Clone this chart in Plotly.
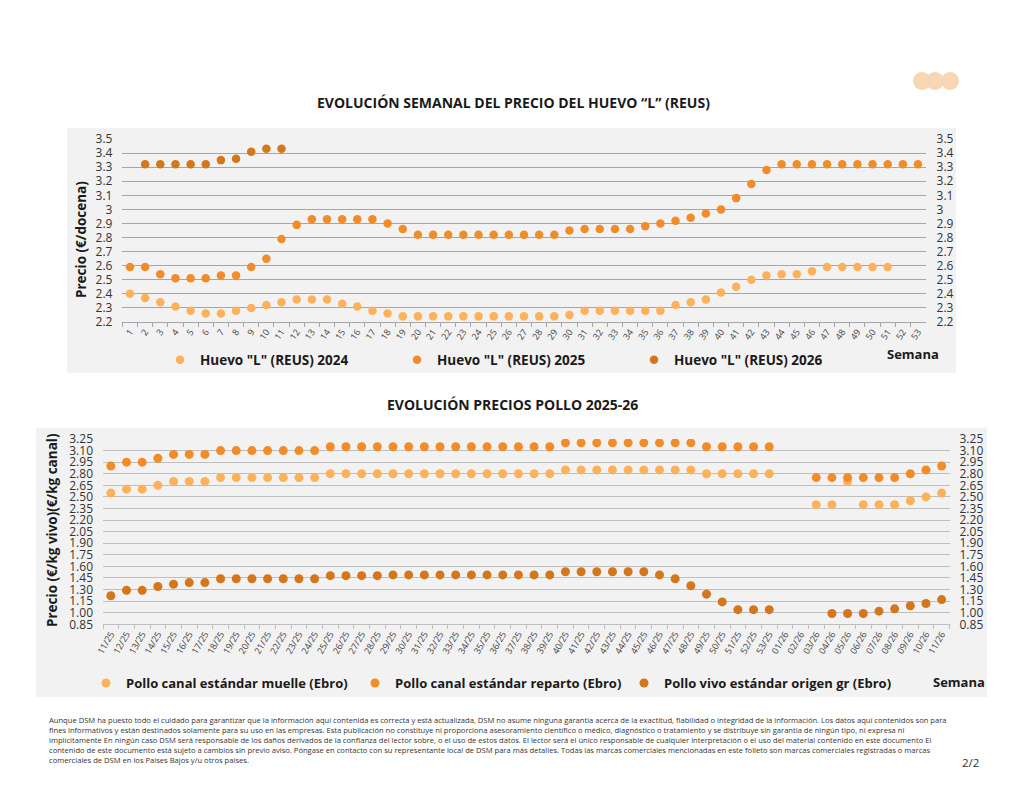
import plotly.graph_objects as go

# ---------------- data: egg chart ----------------
weeks = [str(i) for i in range(1, 54)]
huevo_2024 = [2.40, 2.37, 2.34, 2.31, 2.28, 2.26, 2.26, 2.28, 2.30, 2.32,
              2.34, 2.36, 2.36, 2.36, 2.33, 2.31, 2.28, 2.26, 2.24, 2.24,
              2.24, 2.24, 2.24, 2.24, 2.24, 2.24, 2.24, 2.24, 2.24, 2.25,
              2.28, 2.28, 2.28, 2.28, 2.28, 2.28, 2.32, 2.34, 2.36, 2.41,
              2.45, 2.50, 2.53, 2.54, 2.54, 2.56, 2.59, 2.59, 2.59, 2.59,
              2.59, None, None]
huevo_2025 = [2.59, 2.59, 2.54, 2.51, 2.51, 2.51, 2.53, 2.53, 2.59, 2.65,
              2.79, 2.89, 2.93, 2.93, 2.93, 2.93, 2.93, 2.90, 2.86, 2.82,
              2.82, 2.82, 2.82, 2.82, 2.82, 2.82, 2.82, 2.82, 2.82, 2.85,
              2.86, 2.86, 2.86, 2.86, 2.88, 2.90, 2.92, 2.94, 2.97, 3.00,
              3.08, 3.18, 3.28, 3.32, 3.32, 3.32, 3.32, 3.32, 3.32, 3.32,
              3.32, 3.32, 3.32]
huevo_2026 = [None, 3.32, 3.32, 3.32, 3.32, 3.32, 3.35, 3.36, 3.41, 3.43,
              3.43] + [None] * 42
huevo_ticks = [2.2, 2.3, 2.4, 2.5, 2.6, 2.7, 2.8, 2.9, 3.0, 3.1, 3.2, 3.3, 3.4, 3.5]
huevo_ticktext = ["2.2", "2.3", "2.4", "2.5", "2.6", "2.7", "2.8", "2.9", "3",
                  "3.1", "3.2", "3.3", "3.4", "3.5"]

# ---------------- data: chicken chart ----------------
semanas_pollo = [f"{i}/25" for i in range(11, 54)] + [f"{i:02d}/26" for i in range(1, 12)]
pollo_muelle = [2.55, 2.60, 2.60, 2.65, 2.70, 2.70, 2.70, 2.75, 2.75, 2.75,
                2.75, 2.75, 2.75, 2.75, 2.80, 2.80, 2.80, 2.80, 2.80, 2.80,
                2.80, 2.80, 2.80, 2.80, 2.80, 2.80, 2.80, 2.80, 2.80, 2.85,
                2.85, 2.85, 2.85, 2.85, 2.85, 2.85, 2.85, 2.85, 2.80, 2.80,
                2.80, 2.80, 2.80,
                None, None, 2.40, 2.40, 2.70, 2.40, 2.40, 2.40, 2.45, 2.50, 2.55]
pollo_reparto = [2.90, 2.95, 2.95, 3.00, 3.05, 3.05, 3.05, 3.10, 3.10, 3.10,
                 3.10, 3.10, 3.10, 3.10, 3.15, 3.15, 3.15, 3.15, 3.15, 3.15,
                 3.15, 3.15, 3.15, 3.15, 3.15, 3.15, 3.15, 3.15, 3.15, 3.20,
                 3.20, 3.20, 3.20, 3.20, 3.20, 3.20, 3.20, 3.20, 3.15, 3.15,
                 3.15, 3.15, 3.15,
                 None, None, 2.75, 2.75, 2.75, 2.75, 2.75, 2.75, 2.80, 2.85, 2.90]
pollo_vivo = [1.22, 1.29, 1.29, 1.34, 1.37, 1.39, 1.39, 1.44, 1.44, 1.44,
              1.44, 1.44, 1.44, 1.44, 1.48, 1.48, 1.48, 1.48, 1.49, 1.49,
              1.49, 1.49, 1.49, 1.49, 1.49, 1.49, 1.49, 1.49, 1.49, 1.53,
              1.53, 1.53, 1.53, 1.53, 1.53, 1.49, 1.44, 1.35, 1.24, 1.14,
              1.04, 1.04, 1.04,
              None, None, None, 0.99, 0.99, 0.99, 1.02, 1.05, 1.09, 1.12, 1.17]
pollo_ticks = [0.85, 1.00, 1.15, 1.30, 1.45, 1.60, 1.75, 1.90, 2.05, 2.20,
               2.35, 2.50, 2.65, 2.80, 2.95, 3.10, 3.25]

C_LIGHT = "#FDB25A"
C_MID = "#F28C28"
C_DARK = "#D4761B"
FONT = "Open Sans"
OFF = 8          # default page body margin
W, H = 1008, 775


def px_x(p):
    return (p - OFF) / W


def px_y(p):
    return 1 - (p - OFF) / H


fig = go.Figure()

# egg traces
for name, vals, col in [('Huevo "L" (REUS) 2024', huevo_2024, C_LIGHT),
                        ('Huevo "L" (REUS) 2025', huevo_2025, C_MID),
                        ('Huevo "L" (REUS) 2026', huevo_2026, C_DARK)]:
    fig.add_trace(go.Scatter(x=weeks, y=vals, mode="markers", name="<b>" + name + "</b>",
                             marker=dict(color=col, size=8.5),
                             xaxis="x", yaxis="y", legend="legend"))
fig.add_trace(go.Scatter(x=weeks, y=huevo_2025, mode="markers", showlegend=False,
                         marker=dict(opacity=0), hoverinfo="skip",
                         xaxis="x", yaxis="y2"))

# chicken traces
for name, vals, col in [("Pollo canal estándar muelle (Ebro)", pollo_muelle, C_LIGHT),
                        ("Pollo canal estándar reparto (Ebro)", pollo_reparto, C_MID),
                        ("Pollo vivo estándar origen gr (Ebro)", pollo_vivo, C_DARK)]:
    fig.add_trace(go.Scatter(x=semanas_pollo, y=vals, mode="markers", name="<b>" + name + "</b>",
                             marker=dict(color=col, size=9),
                             xaxis="x2", yaxis="y3", legend="legend2"))
fig.add_trace(go.Scatter(x=semanas_pollo, y=pollo_reparto, mode="markers", showlegend=False,
                         marker=dict(opacity=0), hoverinfo="skip",
                         xaxis="x2", yaxis="y4"))

tick_font = dict(family=FONT, size=12, color="#333333")
xtick_font = dict(family=FONT, size=9, color="#444444")

top_dom_x = [px_x(122.4), px_x(925.6)]
top_dom_y = [px_y(322), px_y(139)]
bot_dom_x = [px_x(103), px_x(949.5)]
bot_dom_y = [px_y(624.3), px_y(439)]

fig.update_layout(
    template="none",
    width=W, height=H,
    margin=dict(l=0, r=0, t=0, b=0, autoexpand=False),
    paper_bgcolor="white",
    plot_bgcolor="rgba(0,0,0,0)",
    font=dict(family=FONT, color="#222222"),
    showlegend=True,
    xaxis=dict(domain=top_dom_x, anchor="y", type="category", tickangle=-55,
               range=[-0.5, len(weeks) - 0.5], autorange=False,
               tickfont=xtick_font, ticks="outside", tickson="boundaries",
               ticklen=4, tickcolor="#a6a6a6", showline=True, linecolor="#a6a6a6",
               linewidth=1.3, showgrid=False, zeroline=False, automargin=False),
    yaxis=dict(domain=top_dom_y, anchor="x", range=[2.2, 3.5], tickvals=huevo_ticks,
               ticktext=huevo_ticktext, tickfont=tick_font, showgrid=True,
               gridcolor="#a6a6a6", gridwidth=1.3, zeroline=False, ticks="",
               showline=False, automargin=False, ticklabelstandoff=9),
    yaxis2=dict(overlaying="y", side="right", anchor="x", range=[2.2, 3.5],
                tickvals=huevo_ticks, ticktext=huevo_ticktext, tickfont=tick_font,
                showgrid=False, zeroline=False, ticks="", showline=False, automargin=False,
                ticklabelstandoff=10),
    xaxis2=dict(domain=bot_dom_x, anchor="y3", type="category", tickangle=-60,
                range=[-0.5, len(semanas_pollo) - 0.5], autorange=False,
                tickfont=xtick_font, ticks="outside", tickson="boundaries",
                ticklen=4, tickcolor="#bfbfbf", showline=True, linecolor="#bfbfbf",
                linewidth=1.2, showgrid=False, zeroline=False, automargin=False),
    yaxis3=dict(domain=bot_dom_y, anchor="x2", range=[0.85, 3.25], tickvals=pollo_ticks,
                tickformat=".2f", tickfont=tick_font, showgrid=True,
                gridcolor="#bfbfbf", gridwidth=1.2, zeroline=False, ticks="",
                showline=False, automargin=False, ticklabelstandoff=9),
    yaxis4=dict(overlaying="y3", side="right", anchor="x2", range=[0.85, 3.25],
                tickvals=pollo_ticks, tickformat=".2f", tickfont=tick_font,
                showgrid=False, zeroline=False, ticks="", showline=False, automargin=False,
                ticklabelstandoff=9),
    legend=dict(orientation="h", x=px_x(160), y=px_y(360), xanchor="left", yanchor="middle",
                bgcolor="rgba(0,0,0,0)", font=dict(family=FONT, size=13.5, color="#1a1a1a"),
                entrywidth=192, entrywidthmode="pixels", itemwidth=30,
                tracegroupgap=0, borderwidth=0),
    legend2=dict(orientation="h", x=px_x(86), y=px_y(683), xanchor="left", yanchor="middle",
                 bgcolor="rgba(0,0,0,0)", font=dict(family=FONT, size=13, color="#1a1a1a"),
                 entrywidth=224, entrywidthmode="pixels", itemwidth=30,
                 tracegroupgap=0, borderwidth=0),
)

# background panels
fig.add_shape(type="rect", xref="paper", yref="paper", x0=px_x(67), x1=px_x(956),
              y0=px_y(372.7), y1=px_y(128), fillcolor="#f2f2f2", line=dict(width=0),
              layer="below")
fig.add_shape(type="rect", xref="paper", yref="paper", x0=px_x(36), x1=px_x(987),
              y0=px_y(697), y1=px_y(427.7), fillcolor="#f2f2f2", line=dict(width=0),
              layer="below")

# logo circles
for cx in [922, 935, 950]:
    fig.add_shape(type="circle", xref="paper", yref="paper",
                  x0=px_x(cx - 9), x1=px_x(cx + 9), y0=px_y(81 + 9), y1=px_y(81 - 9),
                  fillcolor="#F6D6B3", line=dict(width=0), layer="above")


def note(text, x, y, size, xanchor="center", color="#1a1a1a", yanchor="middle",
         align="center", angle=0):
    fig.add_annotation(text=text, xref="paper", yref="paper", x=px_x(x), y=px_y(y),
                       xanchor=xanchor, yanchor=yanchor, align=align, showarrow=False,
                       textangle=angle, font=dict(family=FONT, size=size, color=color))


# titles
note("<b>EVOLUCIÓN SEMANAL DEL PRECIO DEL HUEVO “L” (REUS)</b>", 513, 102, 14)
note("<b>EVOLUCIÓN PRECIOS POLLO 2025-26</b>", 512, 405, 14)
note("<b>Semana</b>", 913, 354, 13)
note("<b>Semana</b>", 959, 682, 13)
note("<b>Precio (€/docena)</b>", 81, 240, 13.5, angle=-90)
note("<b>Precio (€/kg vivo)(€/kg canal)</b>", 52, 530, 13.5, angle=-90)

footer = ("Aunque DSM ha puesto todo el cuidado para garantizar que la información aquí contenida es correcta y está actualizada, DSM no asume ninguna garantía acerca de la exactitud, fiabilidad o integridad de la información. Los datos aquí contenidos son para<br>"
          "fines informativos y están destinados solamente para su uso en las empresas. Esta publicación no constituye ni proporciona asesoramiento científico o médico, diagnóstico o tratamiento y se distribuye sin garantía de ningún tipo, ni expresa ni<br>"
          "implícitamente En ningún caso DSM será responsable de los daños derivados de la confianza del lector sobre, o el uso de estos datos. El lector será el único responsable de cualquier interpretación o el uso del material contenido en este documento El<br>"
          "contenido de este documento está sujeto a cambios sin previo aviso. Póngase en contacto con su representante local de DSM para más detalles. Todas las marcas comerciales mencionadas en este folleto son marcas comerciales registradas o marcas<br>"
          "comerciales de DSM en los Países Bajos y/u otros países.")
note(footer, 47, 713, 7.6, xanchor="left", color="#333333", yanchor="top", align="left")
note("2/2", 970, 762, 11.5, color="#333333")

fig.write_html("out.html")
